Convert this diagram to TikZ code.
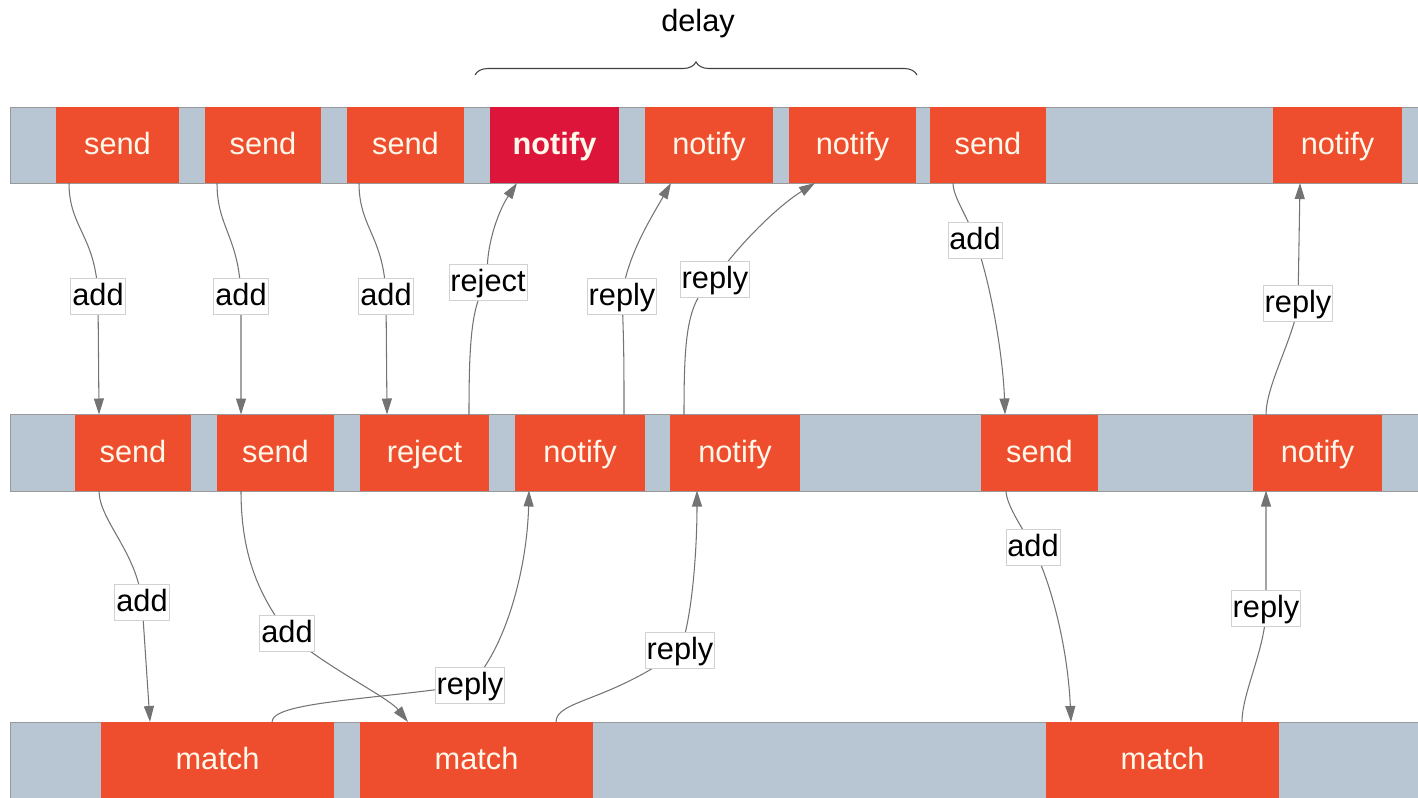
\documentclass[tikz,border=0pt]{standalone}
\usepackage{fontspec}
\setmainfont{Liberation Sans}
\usetikzlibrary{arrows.meta,calc,decorations.pathreplacing}

\definecolor{evred}{RGB}{238,78,46}
\definecolor{evcrim}{RGB}{221,21,58}
\definecolor{bargray}{RGB}{184,197,211}
\definecolor{linegray}{RGB}{115,115,115}
\definecolor{txtcream}{RGB}{255,248,235}

\tikzset{
	ev/.style={fill=evred, text=txtcream, minimum height=15.2mm, inner sep=0pt, outer sep=0pt, text height=13.5pt, text depth=2.5pt},
	evb/.style={ev, fill=evcrim, font=\fontsize{17.5}{20}\selectfont\bfseries},
	bar/.style={fill=bargray, draw=black!40, line width=0.5pt},
	conn/.style={draw=linegray, line width=0.6pt, -{Triangle[length=3.2mm,width=2mm]}},
	lbl/.style={fill=white, draw=black!18, line width=0.4pt, text=black, inner xsep=0.3mm, inner ysep=0pt, minimum height=7.2mm, text height=13.5pt, text depth=2.5pt},
}

\begin{document}
\begin{tikzpicture}[x=0.2mm, y=-0.2mm, font=\fontsize{17.5}{20}\selectfont]
			\useasboundingbox (0,0) rectangle (1418,798);
			% 三条时间轴
			\draw[bar] (10,107) rectangle (1430,183);
			\draw[bar] (10,414) rectangle (1430,491);
			\draw[bar] (10,722) rectangle (1430,798);
			%% 顶行
			\node[ev, minimum width=24.6mm] (t1) at (117.5,145) {send};
			\node[ev, minimum width=23.2mm] (t2) at (263,145) {send};
			\node[ev, minimum width=23.4mm] (t3) at (405.5,145) {send};
			\node[evb, minimum width=25.8mm] (t4) at (554.5,145) {notify};
			\node[ev, minimum width=25.6mm] (t5) at (709,145) {notify};
			\node[ev, minimum width=25.4mm] (t6) at (852.5,145) {notify};
			\node[ev, minimum width=23.2mm] (t7) at (988,145) {send};
			\node[ev, minimum width=25.8mm] (t8) at (1337.5,145) {notify};
			%% 中行
			\node[ev, minimum width=23.2mm] (m1) at (133,452.5) {send};
			\node[ev, minimum width=23.4mm] (m2) at (275.5,452.5) {send};
			\node[ev, minimum width=25.8mm] (m3) at (424.5,452.5) {reject};
			\node[ev, minimum width=26mm] (m4) at (580,452.5) {notify};
			\node[ev, minimum width=26mm] (m5) at (735,452.5) {notify};
			\node[ev, minimum width=23.4mm] (m6) at (1039.5,452.5) {send};
			\node[ev, minimum width=25.8mm] (m7) at (1317.5,452.5) {notify};
			%% 底行
			\node[ev, minimum width=46.6mm] (b1) at (217.5,760) {match};
			\node[ev, minimum width=46.6mm] (b2) at (476.5,760) {match};
			\node[ev, minimum width=46.6mm] (b3) at (1162.5,760) {match};
			% 延迟括号
			\draw[decorate, decoration={brace, amplitude=2.6mm}, draw=black!75, line width=0.6pt]
				($(t4.north west)+(-15,-32)$) -- ($(t6.north east)+(1,-32)$);
			\node (dl) at (698,24) {delay};
			% 对各个顶点连线
			\draw[conn] ($(t1.south west)+(13,0)$) .. controls +(0,45) and +(-2,-60) .. (98,296) node[lbl] (l1) {add} -- ($(m1.north west)+(24,0)$);
			\draw[conn] ($(t2.south west)+(12,0)$) .. controls +(0,45) and +(-2,-60) .. (241,296) node[lbl] (l2) {add} -- ($(m2.north west)+(24,0)$);
			\draw[conn] ($(t3.south west)+(12,0)$) .. controls +(0,45) and +(-2,-60) .. (386,296) node[lbl] (l3) {add} -- ($(m3.north west)+(27,0)$);
			\draw[conn] ($(m3.north west)+(109,0)$) .. controls +(0,-70) and +(-17,20) .. (488,282) node[lbl] (l4) {reject}
				.. controls +(-4,-30) and +(-20,30) .. ($(t4.south west)+(27,0)$);
			\draw[conn] ($(m4.north west)+(109,0)$) .. controls +(0,-50) and +(2,50) .. (622,296) node[lbl] (l5) {reply}
				.. controls +(5,-40) and +(-20,35) .. ($(t5.south west)+(26,0)$);
			\draw[conn] ($(m5.north west)+(14,0)$) .. controls +(0,-80) and +(-28,20) .. (715,279) node[lbl] (l6) {reply}
				.. controls +(20,-30) and +(-40,25) .. ($(t6.south west)+(26,0)$);
			\draw[conn] ($(t7.south west)+(23,0)$) .. controls +(0,15) and +(-5,-20) .. (975,240) node[lbl] (l7) {add}
				.. controls +(15,40) and +(-2,-60) .. ($(m6.north west)+(24,0)$);
			\draw[conn] ($(m7.north west)+(13,0)$) .. controls +(0,-30) and +(-2,30) .. (1298,303) node[lbl] (l8) {reply} -- ($(t8.south west)+(27,0)$);
			\draw[conn] ($(m1.south west)+(24,0)$) .. controls +(0,30) and +(-5,-50) .. (142,602) node[lbl] (l9) {add} -- ($(b1.north west)+(49,0)$);
			\draw[conn] ($(m2.south west)+(24,0)$) .. controls +(0,70) and +(-25,-35) .. (287,633) node[lbl] (l10) {add}
				.. controls +(40,35) and +(-20,-25) .. ($(b2.north west)+(48,0)$);
			\draw[conn] ($(b1.north west)+(171,0)$) .. controls +(0,-20) and +(-100,15) .. (470,685) node[lbl] (l11) {reply}
				.. controls +(35,-35) and +(-2,80) .. ($(m4.south west)+(14,0)$);
			\draw[conn] ($(b2.north west)+(196,0)$) .. controls +(0,-22) and +(-70,52) .. (680,650) node[lbl] (l12) {reply}
				.. controls +(12,-30) and +(0,60) .. ($(m5.south west)+(27,0)$);
			\draw[conn] ($(m6.south west)+(25,0)$) .. controls +(0,15) and +(-8,-15) .. (1033,547) node[lbl] (l13) {add}
				.. controls +(20,40) and +(-3,-70) .. ($(b3.north west)+(25,0)$);
			\draw[conn] ($(b3.north west)+(196,0)$) .. controls +(0,-30) and +(0,40) .. (1266,608) node[lbl] (l14) {reply} -- ($(m7.south west)+(13,0)$);
		\end{tikzpicture}
\end{document}
